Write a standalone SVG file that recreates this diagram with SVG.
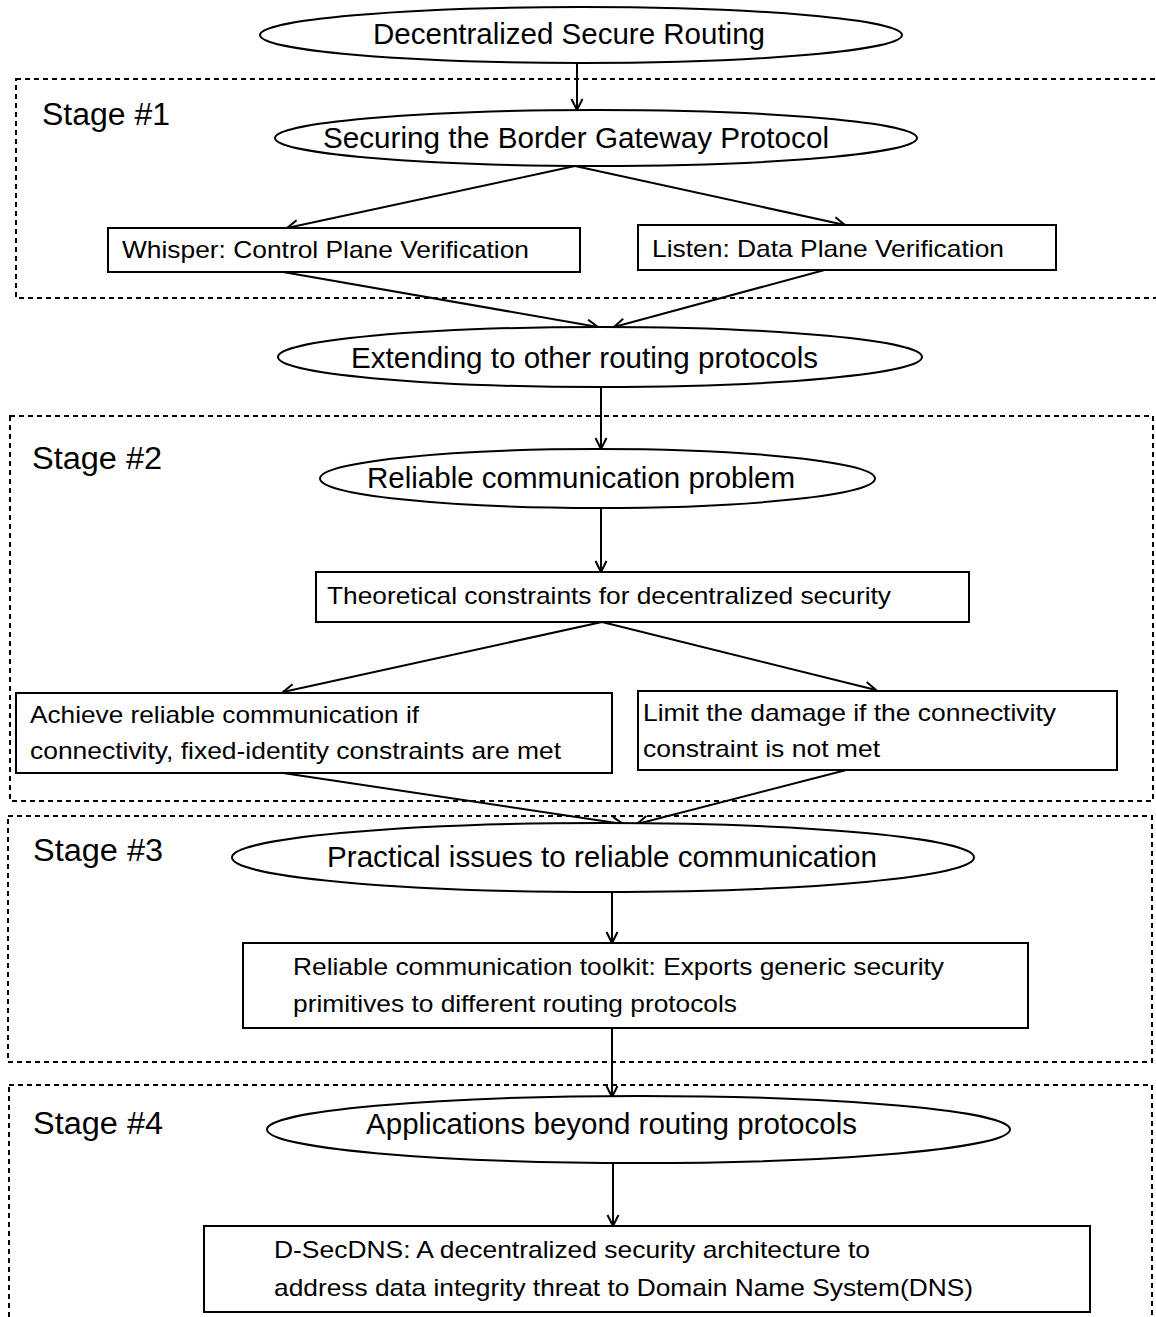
<svg xmlns="http://www.w3.org/2000/svg" width="1156" height="1317" viewBox="0 0 1156 1317">
  <defs>
    <marker id="arrow" markerUnits="userSpaceOnUse" markerWidth="14" markerHeight="14" refX="12" refY="6.5" orient="auto">
      <path d="M1,1 L12,6.5 L1,12" fill="none" stroke="#000" stroke-width="2"/>
    </marker>
    <style>
      .stage { fill: none; stroke: #000; stroke-width: 2; stroke-dasharray: 5 4; }
      .oval { fill: #fff; stroke: #000; stroke-width: 2; }
      .box { fill: #fff; stroke: #000; stroke-width: 2; }
      .edge { fill: none; stroke: #000; stroke-width: 2; marker-end: url(#arrow); }
      text { font-family: "Liberation Sans", Arial, sans-serif; fill: #000; }
      .big { font-size: 29px; }
      .label { font-size: 31px; }
      .small { font-size: 24px; }
    </style>
  </defs>
  <rect width="1156" height="1317" fill="#fff"/>

  <!-- stage frames -->
  <g id="stages">
    <rect id="stage1" class="stage" x="16" y="79" width="1141" height="219"/>
    <rect id="stage2" class="stage" x="10" y="416" width="1143" height="385"/>
    <rect id="stage3" class="stage" x="8" y="816" width="1144" height="246"/>
    <rect id="stage4" class="stage" x="9" y="1085" width="1143" height="260"/>
    <text class="label" x="42" y="125" textLength="128" lengthAdjust="spacingAndGlyphs">Stage #1</text>
    <text class="label" x="32" y="469" textLength="130" lengthAdjust="spacingAndGlyphs">Stage #2</text>
    <text class="label" x="33" y="861" textLength="130" lengthAdjust="spacingAndGlyphs">Stage #3</text>
    <text class="label" x="33" y="1134" textLength="130" lengthAdjust="spacingAndGlyphs">Stage #4</text>
  </g>

  <!-- connectors -->
  <g id="connectors">
    <line class="edge" x1="577" y1="63" x2="577" y2="110"/>
    <line class="edge" x1="575" y1="166" x2="287" y2="228"/>
    <line class="edge" x1="575" y1="166" x2="845" y2="225"/>
    <line class="edge" x1="283" y1="272" x2="598" y2="327"/>
    <line class="edge" x1="832" y1="268" x2="614" y2="327"/>
    <line class="edge" x1="601" y1="387" x2="601" y2="449"/>
    <line class="edge" x1="601" y1="508" x2="601" y2="572"/>
    <line class="edge" x1="602" y1="622" x2="283" y2="692"/>
    <line class="edge" x1="602" y1="622" x2="876" y2="690"/>
    <line class="edge" x1="283" y1="773" x2="623" y2="824"/>
    <line class="edge" x1="858" y1="767" x2="637" y2="824"/>
    <line class="edge" x1="612" y1="892" x2="612" y2="943"/>
    <line class="edge" x1="612" y1="1028" x2="612" y2="1097"/>
    <line class="edge" x1="613" y1="1163" x2="613" y2="1226"/>
  </g>

  <g id="n-routing">
    <ellipse class="oval" cx="581" cy="35" rx="321" ry="28"/>
    <text class="big" x="373" y="44" textLength="392" lengthAdjust="spacingAndGlyphs">Decentralized Secure Routing</text>
  </g>

  <g id="n-bgp">
    <ellipse class="oval" cx="596" cy="138" rx="321" ry="28"/>
    <text class="big" x="323" y="148" textLength="506" lengthAdjust="spacingAndGlyphs">Securing the Border Gateway Protocol</text>
  </g>

  <g id="n-whisper">
    <rect class="box" x="108" y="228" width="472" height="44"/>
    <text class="small" x="122" y="258" textLength="407" lengthAdjust="spacingAndGlyphs">Whisper: Control Plane Verification</text>
  </g>

  <g id="n-listen">
    <rect class="box" x="638" y="225" width="418" height="45"/>
    <text class="small" x="652" y="257" textLength="352" lengthAdjust="spacingAndGlyphs">Listen: Data Plane Verification</text>
  </g>

  <g id="n-extend">
    <ellipse class="oval" cx="600" cy="357" rx="322" ry="30"/>
    <text class="big" x="351" y="368" textLength="467" lengthAdjust="spacingAndGlyphs">Extending to other routing protocols</text>
  </g>

  <g id="n-reliable">
    <ellipse class="oval" cx="597.5" cy="478.5" rx="277.5" ry="29.5"/>
    <text class="big" x="367" y="488" textLength="428" lengthAdjust="spacingAndGlyphs">Reliable communication problem</text>
  </g>

  <g id="n-theory">
    <rect class="box" x="316" y="572" width="653" height="50"/>
    <text class="small" x="327" y="604" textLength="564" lengthAdjust="spacingAndGlyphs">Theoretical constraints for decentralized security</text>
  </g>

  <g id="n-achieve">
    <rect class="box" x="16" y="693" width="596" height="80"/>
    <text class="small" x="30" y="723" textLength="389" lengthAdjust="spacingAndGlyphs">Achieve reliable communication if</text>
    <text class="small" x="30" y="759" textLength="531" lengthAdjust="spacingAndGlyphs">connectivity, fixed-identity constraints are met</text>
  </g>

  <g id="n-limit">
    <rect class="box" x="638" y="691" width="479" height="79"/>
    <text class="small" x="643" y="721" textLength="413" lengthAdjust="spacingAndGlyphs">Limit the damage if the connectivity</text>
    <text class="small" x="643" y="757" textLength="237" lengthAdjust="spacingAndGlyphs">constraint is not met</text>
  </g>

  <g id="n-practical">
    <ellipse class="oval" cx="603" cy="857.5" rx="371" ry="34.5"/>
    <text class="big" x="327" y="867" textLength="550" lengthAdjust="spacingAndGlyphs">Practical issues to reliable communication</text>
  </g>

  <g id="n-toolkit">
    <rect class="box" x="243" y="943" width="785" height="85"/>
    <text class="small" x="293" y="975" textLength="651" lengthAdjust="spacingAndGlyphs">Reliable communication toolkit: Exports generic security</text>
    <text class="small" x="293" y="1012" textLength="444" lengthAdjust="spacingAndGlyphs">primitives to different routing protocols</text>
  </g>

  <g id="n-apps">
    <ellipse class="oval" cx="638.5" cy="1129.5" rx="371.5" ry="33.5"/>
    <text class="big" x="366" y="1134" textLength="491" lengthAdjust="spacingAndGlyphs">Applications beyond routing protocols</text>
  </g>

  <g id="n-dsecdns">
    <rect class="box" x="204" y="1226" width="886" height="86"/>
    <text class="small" x="274" y="1258" textLength="596" lengthAdjust="spacingAndGlyphs">D-SecDNS: A decentralized security architecture to</text>
    <text class="small" x="274" y="1296" textLength="699" lengthAdjust="spacingAndGlyphs">address data integrity threat to Domain Name System(DNS)</text>
  </g>
</svg>
